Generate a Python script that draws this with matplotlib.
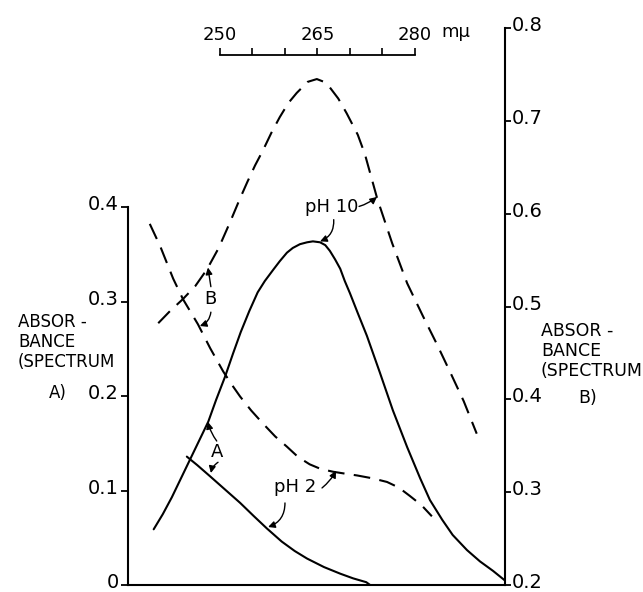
import matplotlib
matplotlib.use("Agg")
import matplotlib.pyplot as plt
import matplotlib.transforms as mtransforms

plt.rcParams['font.family'] = ['DejaVu Sans']

# ---- data ----
# Spectrum A (solid lines, left axis)
wl_A_pH10 = [239.8, 241.2, 242.6, 244.0, 245.4, 246.8, 248.2, 249.4, 250.8, 252.0, 253.2,
             254.5, 255.8, 256.9, 258.2, 259.2, 260.3, 261.2, 262.3, 263.4, 264.3, 265.4,
             266.2, 266.9, 267.7, 268.5, 269.2, 270.0, 271.2, 272.6, 274.6, 276.6, 278.8,
             280.8, 282.3, 284.2, 285.8, 288.0, 290.0, 292.0, 293.8]
abs_A_pH10 = [0.059, 0.075, 0.093, 0.113, 0.133, 0.153, 0.173, 0.196, 0.221, 0.245, 0.268,
              0.290, 0.310, 0.322, 0.334, 0.343, 0.352, 0.357, 0.361, 0.363, 0.364, 0.363,
              0.360, 0.354, 0.345, 0.335, 0.322, 0.309, 0.288, 0.264, 0.225, 0.185, 0.146,
              0.113, 0.090, 0.069, 0.053, 0.037, 0.025, 0.015, 0.005]

wl_A_pH2 = [244.9, 246.5, 248.5, 250.8, 253.1, 255.2, 257.2, 259.5, 261.5, 263.4, 266.0,
            268.5, 270.5, 271.5, 272.5, 273.1]
abs_A_pH2 = [0.136, 0.127, 0.115, 0.101, 0.087, 0.073, 0.060, 0.046, 0.036, 0.028, 0.019,
             0.012, 0.007, 0.005, 0.003, 0.0]

# Spectrum B (dashed lines, right axis)
wl_B_pH10 = [240.5, 242.3, 244.3, 246.2, 248.0, 249.8, 251.5, 253.0, 254.2, 255.4, 256.6,
             257.9, 259.2, 260.5, 261.8, 263.5, 264.9, 266.0, 266.9, 268.2, 269.5, 271.2,
             272.3, 274.2, 276.5, 278.8, 281.2, 283.4, 285.5, 287.5, 289.5]
abs_B_pH10 = [0.482, 0.495, 0.508, 0.522, 0.540, 0.563, 0.590, 0.615, 0.634, 0.652, 0.668,
              0.687, 0.704, 0.719, 0.730, 0.742, 0.745, 0.742, 0.736, 0.724, 0.708, 0.685,
              0.664, 0.616, 0.568, 0.525, 0.490, 0.459, 0.428, 0.398, 0.363]

wl_B_pH2 = [239.2, 240.8, 242.8, 244.3, 246.6, 248.5, 250.5, 251.8, 253.1, 254.8, 256.6,
            258.5, 260.3, 262.0, 263.8, 265.5, 267.4, 269.2, 271.1, 273.4, 275.7, 277.5,
            279.2, 281.0, 282.6]
abs_B_pH2 = [0.589, 0.565, 0.530, 0.508, 0.481, 0.455, 0.430, 0.416, 0.403, 0.388, 0.374,
             0.360, 0.349, 0.338, 0.330, 0.325, 0.322, 0.320, 0.318, 0.315, 0.311, 0.305,
             0.296, 0.286, 0.274]

left_ticks = [0.0, 0.1, 0.2, 0.3, 0.4]
left_labels = ['0', '0.1', '0.2', '0.3', '0.4']
right_ticks = [0.2, 0.3, 0.4, 0.5, 0.6, 0.7, 0.8]
right_labels = ['0.2', '0.3', '0.4', '0.5', '0.6', '0.7', '0.8']
wl_ticks = [250, 255, 260, 265, 270, 275, 280]
wl_labels = ['250', '', '', '265', '', '', '280']

# ---- figure ----
fig = plt.figure(figsize=(6.43, 5.92), dpi=100)
ax = fig.add_axes([128 / 643, 7 / 592, 377 / 643, 557 / 592])
ax2 = ax.twinx()

ax.set_xlim(235.85, 293.85)
ax.set_ylim(0, 0.59)
ax2.set_ylim(0.2, 0.8)

lw = 1.5
ax.plot(wl_A_pH10, abs_A_pH10, color='black', lw=lw, solid_capstyle='round',
        solid_joinstyle='round')
ax.plot(wl_A_pH2, abs_A_pH2, color='black', lw=lw, solid_capstyle='round',
        solid_joinstyle='round')
dash = (0, (8, 4.5))
ax2.plot(wl_B_pH10, abs_B_pH10, color='black', lw=lw, linestyle=dash)
ax2.plot(wl_B_pH2, abs_B_pH2, color='black', lw=lw, linestyle=dash)

# spines
for a in (ax, ax2):
    a.patch.set_visible(False)
    for s in a.spines.values():
        s.set_linewidth(1.5)
        s.set_visible(False)
ax.spines['left'].set_visible(True)
ax.spines['left'].set_bounds(0, 0.4)
ax.spines['bottom'].set_visible(True)
ax2.spines['right'].set_visible(True)

ax.set_xticks([])
ax.set_yticks(left_ticks)
ax.set_yticklabels(left_labels)
ax.tick_params(axis='y', direction='out', length=5, width=1.3, pad=1.5, labelsize=14)
ax2.set_yticks(right_ticks)
ax2.set_yticklabels(right_labels)
ax2.tick_params(axis='y', direction='out', length=4, width=1.3, pad=1.0, labelsize=14)

off = mtransforms.ScaledTranslation(0, 4.5 / 100, fig.dpi_scale_trans)
for lab in ax.get_yticklabels() + ax2.get_yticklabels():
    lab.set_transform(lab.get_transform() + off)

# top wavelength scale bar
sec = ax.secondary_xaxis(530 / 557)
sec.set_xticks(wl_ticks)
sec.set_xticklabels(wl_labels)
sec.tick_params(axis='x', direction='out', length=5, width=1.2, pad=3, labelsize=13)
for name, s in sec.spines.items():
    s.set_visible(name == 'top')
sec.spines['top'].set_bounds(250, 280)
sec.spines['top'].set_linewidth(1.3)
ax.text(284.0, (585 - 41) / 557, 'm\u03bc', transform=ax.get_xaxis_transform(),
        ha='left', va='bottom', fontsize=13)

# axis titles
fig.text(18 / 643, 1 - 313 / 592, 'ABSOR -\nBANCE\n(SPECTRUM', ha='left', va='top',
         fontsize=12, linespacing=1.15)
fig.text(58 / 643, 1 - 393 / 592, 'A)', ha='center', va='center', fontsize=12)
fig.text(541 / 643, 1 - 322 / 592, 'ABSOR -\nBANCE\n(SPECTRUM', ha='left', va='top',
         fontsize=12.5, linespacing=1.15)
fig.text(588 / 643, 1 - 398 / 592, 'B)', ha='center', va='center', fontsize=12.5)

# curve labels
fs = 13
ax.text(267.2, 0.400, 'pH 10', ha='center', va='center', fontsize=fs)
ax.text(248.5, 0.303, 'B', ha='center', va='center', fontsize=fs)
ax.text(249.5, 0.141, 'A', ha='center', va='center', fontsize=fs)
ax.text(261.5, 0.104, 'pH 2', ha='center', va='center', fontsize=fs)


def arrow(start, end, end_ax, rad):
    ax.annotate('', xy=end, xycoords=end_ax.transData, xytext=start, textcoords=ax.transData,
                arrowprops=dict(arrowstyle='-|>', color='black', lw=1.0, mutation_scale=10,
                                shrinkA=0, shrinkB=0,
                                connectionstyle=f'arc3,rad={rad}'))


arrow((267.5, 0.387), (265.4, 0.364), ax, -0.35)
arrow((271.4, 0.401), (274.15, 0.618), ax2, 0.1)
arrow((248.6, 0.316), (248.15, 0.542), ax2, 0.0)
arrow((248.6, 0.289), (246.9, 0.479), ax2, -0.3)
arrow((249.5, 0.1525), (248.15, 0.1727), ax, -0.1)
arrow((249.7, 0.130), (248.6, 0.1186), ax, 0.2)
arrow((265.7, 0.1028), (267.85, 0.323), ax2, 0.1)
arrow((260.0, 0.0869), (257.4, 0.0614), ax, -0.35)

fig.savefig('out.png', dpi=100)
